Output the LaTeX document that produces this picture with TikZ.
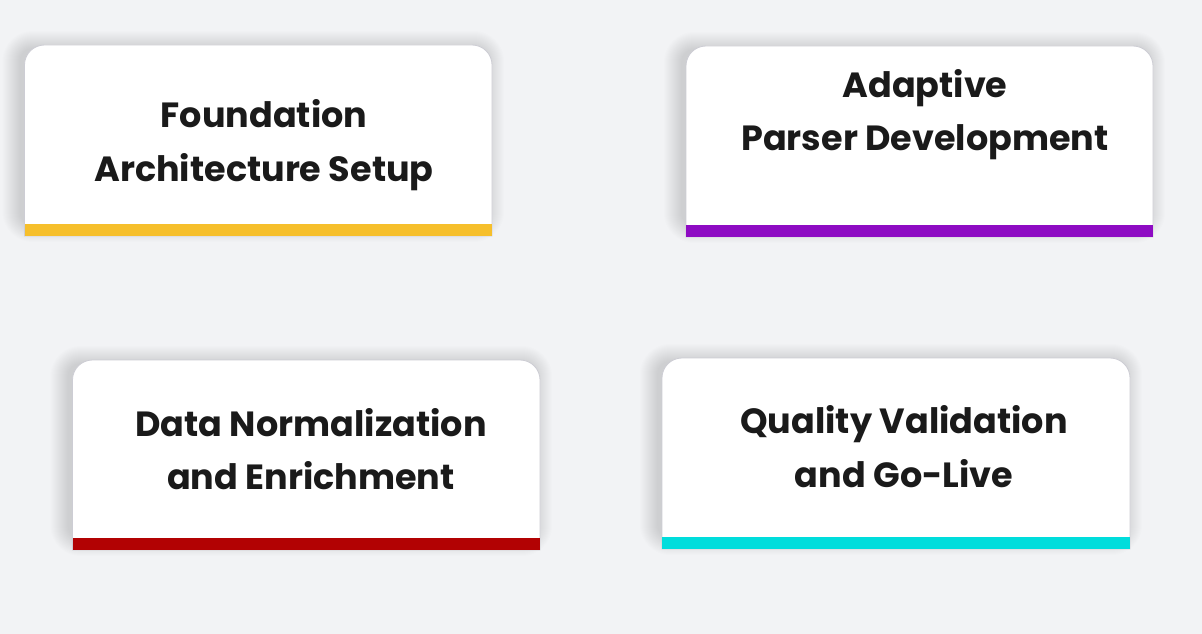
\documentclass[tikz,border=0pt]{standalone}
\usepackage{fontspec}
\setmainfont{Poppins}
\definecolor{bgc}{HTML}{F2F3F5}
\definecolor{edgec}{HTML}{CDCDD4}
\definecolor{txtc}{HTML}{1A1A1A}
\definecolor{cyel}{HTML}{F6BF2B}
\definecolor{cpur}{HTML}{8E0BC3}
\definecolor{cred}{HTML}{B20203}
\definecolor{ccya}{HTML}{00DDDC}
\tikzset{
  cardbody/.style={fill=white, draw=edgec, line width=0.8pt},
  cardshade/.style={fill=black, fill opacity=0.0065, draw=none},
  cardband/.style={fill=#1, draw=none},
  cardtext/.style={font=\bfseries\fontsize{35}{53.5}\selectfont, text=txtc, align=center, inner sep=0pt}
}
% \cardshape{x1}{y1}{x2}{y2}{colour}
\newcommand{\cardshape}[5]{%
  \foreach \i in {1,...,18}{
    \fill[cardshade, rounded corners=12+\i] (#1-4-\i,#2+4-\i) rectangle (#3-6+\i,#4-12+\i);
  }
  \path[cardbody] (#1,#4) -- (#1,#2+20) arc[start angle=180, end angle=270, radius=20]
     -- (#3-20,#2) arc[start angle=270, end angle=360, radius=20] -- (#3,#4) -- cycle;
  \fill[cardband=#5] (#1,#4-12) rectangle (#3,#4);
}
\begin{document}
\begin{tikzpicture}[x=1pt,y=-1pt]
\useasboundingbox (0,0) rectangle (1202,634);
\fill[bgc] (0,0) rectangle (1202,634);
\cardshape{24.5}{45}{492}{236}{cyel}
\cardshape{686}{46}{1153}{237}{cpur}
\cardshape{72.5}{360}{540}{550}{cred}
\cardshape{662}{358}{1130}{549}{ccya}
\node[cardtext] (c1) at (264,145) {Foundation\\Architecture Setup};
\node[cardtext] (c2) at (925,114.5) {Adaptive\\Parser Development};
\node[cardtext] (c3) at (311,449) {Data Normalization\\and Enrichment};
\node[cardtext] (c4) at (904,446.5) {Quality Validation\\and Go-Live};
\end{tikzpicture}
\end{document}
